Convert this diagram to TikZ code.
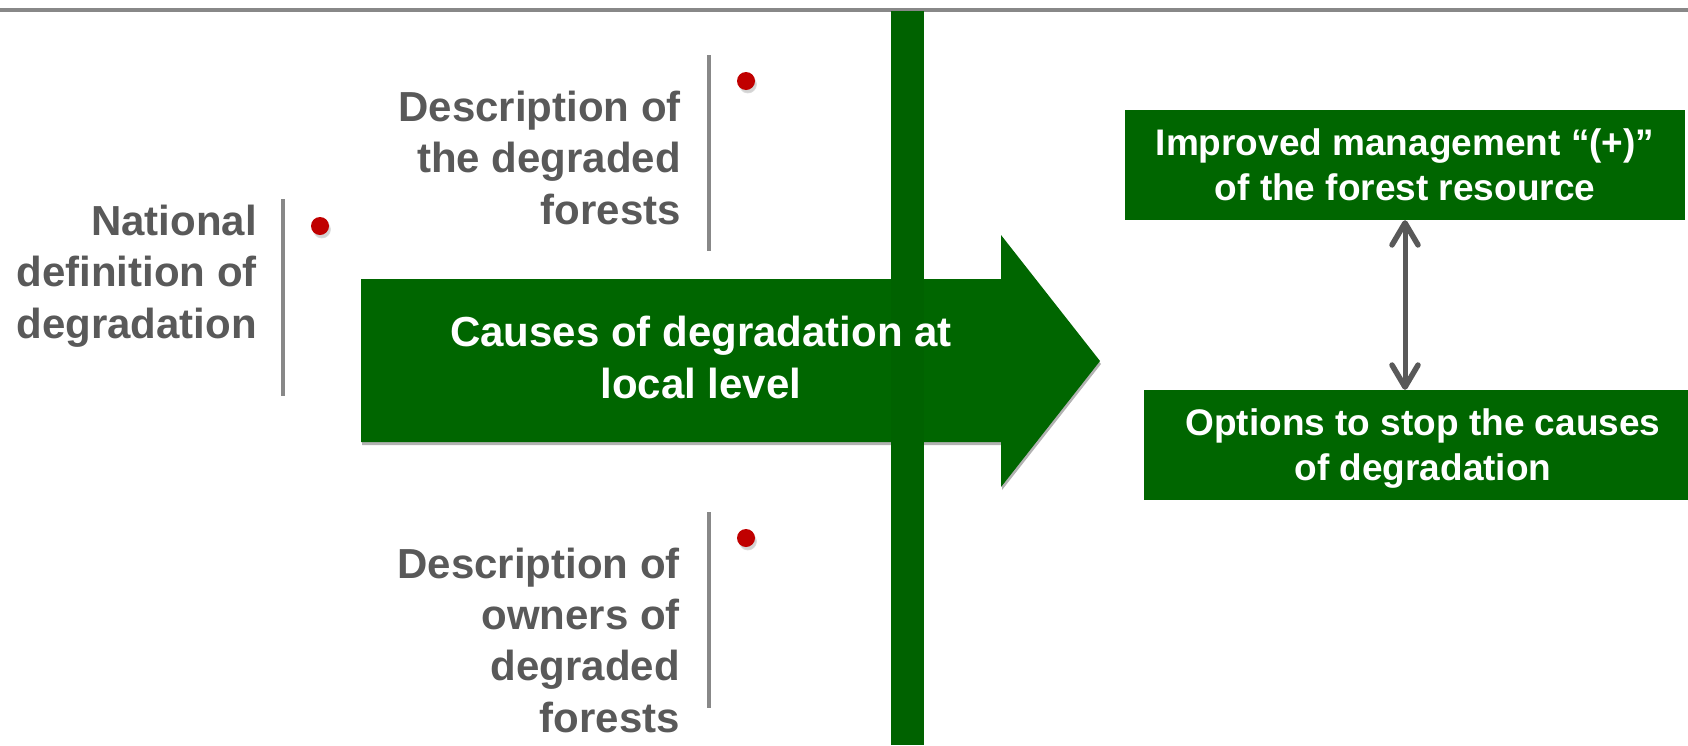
\documentclass[tikz,border=0pt]{standalone}
\usepackage{fontspec}
\setmainfont{Liberation Sans}
\usetikzlibrary{arrows.meta,shadows}
\definecolor{fgreen}{RGB}{0,102,0}
\definecolor{bargreen}{RGB}{0,98,0}
\definecolor{tgray}{RGB}{89,89,89}
\definecolor{lgray}{RGB}{136,136,136}
\definecolor{dred}{RGB}{192,0,0}
\tikzset{
  graytext/.style={text=tgray, font=\bfseries\fontsize{42}{51.3}\selectfont, align=right, inner sep=0pt, anchor=base east},
  arrowtext/.style={text=white, font=\bfseries\fontsize{42}{51.8}\selectfont, align=center, inner sep=0pt, anchor=base},
  boxtext/.style={text=white, font=\bfseries\fontsize{37}{45}\selectfont, align=center, inner sep=0pt},
  gbox/.style={fill=fgreen, inner sep=0pt, minimum height=110pt, text=white, font=\bfseries\fontsize{37}{45}\selectfont, align=center},
  sepline/.style={draw=lgray, line width=3.5pt},
  reddot/.style={circle, fill=dred, minimum size=18pt, inner sep=0pt, circular drop shadow={shadow xshift=1.5pt, shadow yshift=-3pt, opacity=0.35, shadow scale=1.05}},
  dblarrow/.style={draw=tgray, line width=5pt, arrows={Straight Barb[length=22pt,width=26pt,line width=5.5pt,round]-Straight Barb[length=22pt,width=26pt,line width=5.5pt,round]}}
}
\begin{document}
\begin{tikzpicture}[x=1pt,y=-1pt]
\useasboundingbox (0,0) rectangle (1688,745);
% top rule
\fill[lgray] (0,8) rectangle (1688,12);
% big arrow
\fill[fgreen, drop shadow={shadow xshift=1pt, shadow yshift=-3pt, opacity=0.3, fill=black}]
  (361,279) -- (1001,279) -- (1001,235) -- (1100,361) -- (1001,487) -- (1001,442) -- (361,442) -- cycle;
% vertical bar
\fill[bargreen] (891,11) rectangle (924,745);
% arrow text
\node[arrowtext] (causes) at (701,398) {Causes of degradation at\\local level};
% left block
\draw[sepline] (283,199) -- (283,396);
\node[reddot] (dotnat) at (320,226) {};
\node[graytext] (national) at (257,338) {National\\definition of\\degradation};
% upper description
\draw[sepline] (709,55) -- (709,251);
\node[reddot] (dotdesc) at (746,81) {};
\node[graytext] (desc) at (681,224) {Description of\\the degraded\\forests};
% lower description
\draw[sepline] (709,512) -- (709,708);
\node[reddot] (dotown) at (746,538) {};
\node[graytext] (owners) at (680,732) {Description of\\owners of\\degraded\\forests};
% right boxes
\node[gbox, minimum width=560pt] (impr) at (1405,165) {Improved management “(+)”\\of the forest resource};
\node[gbox, minimum width=544pt] (opt) at (1416,445) {};
\node[boxtext] (opttext) at (1423,449) {Options to stop the causes\\of degradation};
\draw[dblarrow] (impr.south) -- (impr.south |- opt.north);
\end{tikzpicture}
\end{document}
